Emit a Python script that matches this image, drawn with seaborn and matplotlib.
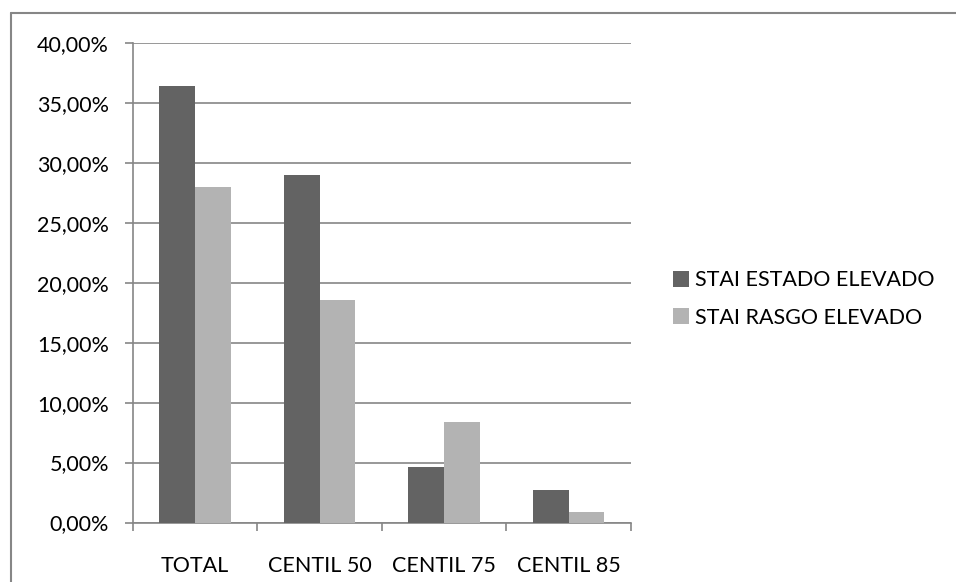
import pandas as pd
import seaborn as sns
import matplotlib
import matplotlib.pyplot as plt
from matplotlib.lines import Line2D
from matplotlib.patches import Patch
from matplotlib.ticker import FuncFormatter, MultipleLocator
matplotlib.use('Agg')

sns.set_theme(style="white")
plt.rcParams['font.family'] = ['Lato', 'DejaVu Sans']

# data (percent)
categories = ['TOTAL', 'CENTIL 50', 'CENTIL 75', 'CENTIL 85']
series_names = ['STAI ESTADO ELEVADO', 'STAI RASGO ELEVADO']
estado = [36.4, 29.0, 4.65, 2.75]
rasgo = [28.0, 18.6, 8.35, 0.85]

df = pd.DataFrame({
    'cat': categories * 2,
    'serie': [series_names[0]] * 4 + [series_names[1]] * 4,
    'val': estado + rasgo,
})

dark = '#636363'
light = '#b3b3b3'
grid_color = '#868686'
font_size = 15.5

fig = plt.figure(figsize=(9.56, 5.82), dpi=100)
W, H = 956, 582
ax = fig.add_axes([132.7 / W, 1 - 522.5 / H, (631 - 132.7) / W, (522.5 - 43) / H])

sns.barplot(data=df, x='cat', y='val', hue='serie', order=categories,
            hue_order=series_names, palette=[dark, light], width=0.573,
            saturation=1, ax=ax, legend=False, zorder=3, linewidth=0)

ax.set_ylim(0, 40)
ax.set_xlim(-0.5, 3.5)
ax.yaxis.set_major_locator(MultipleLocator(5))
ax.yaxis.set_major_formatter(FuncFormatter(lambda v, p: f"{v:.2f}%".replace('.', ',')))
ax.set_xticks([-0.5, 0.5, 1.5, 2.5, 3.5], minor=False)
ax.set_xticklabels([])
ax.set_xticks([0, 1, 2, 3], minor=True)
ax.set_xticklabels(categories, minor=True)
ax.tick_params(axis='x', which='major', direction='out', length=6, width=1.2, color=grid_color, bottom=True)
ax.tick_params(axis='x', which='minor', length=0, pad=24, labelsize=font_size, labelcolor='black')
ax.tick_params(axis='y', direction='out', length=6, width=1.2, color=grid_color, left=True,
               labelsize=font_size, pad=11, labelcolor='black')
ax.set_xlabel('')
ax.set_ylabel('')
ax.yaxis.grid(True, color=grid_color, linewidth=1.2, zorder=0)
ax.set_axisbelow(True)
for s in ['top', 'right']:
    ax.spines[s].set_visible(False)
for s in ['left', 'bottom']:
    ax.spines[s].set_color(grid_color)
    ax.spines[s].set_linewidth(1.2)

handles = [Patch(facecolor=dark, edgecolor='none'), Patch(facecolor=light, edgecolor='none')]
fig.legend(handles, series_names, loc='center left', bbox_to_anchor=(664 / W, 1 - 299 / H),
           frameon=False, fontsize=font_size, handlelength=0.75, handleheight=0.75,
           handletextpad=0.3, labelspacing=0.8, borderaxespad=0, labelcolor='black')

# outer chart border (top and left visible)
fig.add_artist(Line2D([11 / W, 1], [1 - 13 / H, 1 - 13 / H], color=grid_color, linewidth=1.5))
fig.add_artist(Line2D([11 / W, 11 / W], [0, 1 - 13 / H], color=grid_color, linewidth=1.5))

fig.savefig('out.png', dpi=100)
